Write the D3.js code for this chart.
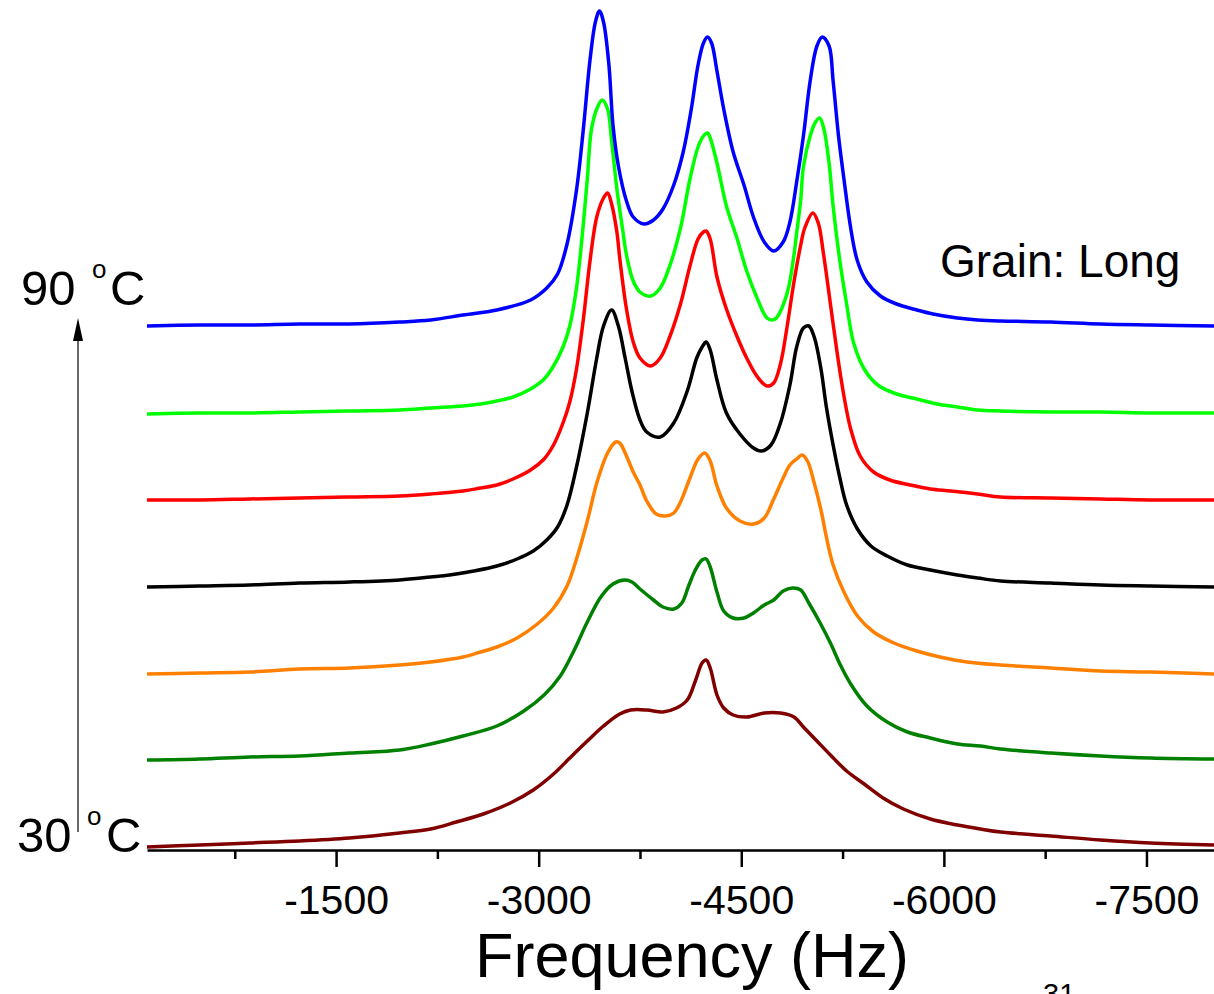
<!DOCTYPE html>
<html lang="en">
<head>
<meta charset="UTF-8">
<title>Frequency stack</title>
<style>
  body { margin: 0; background: #fff; }
  svg { display: block; font-family: "Liberation Sans", Arial, sans-serif; }
</style>
</head>
<body>
<svg width="1214" height="994"></svg>
<script src="https://d3js.org/d3.v7.min.js"></script>
<script>
// temperatures, bottom trace first
const temps = [30, 40, 50, 60, 70, 80, 90];
const colors = ["#800000", "#008000", "#ff8000", "#000000", "#ff0000", "#00ff00", "#0000ff"];
// vertical stacking offset of each trace (a.u.)
const offsets = [3, 90, 177, 263, 350, 436, 524];
const xTicks = [-1500, -3000, -4500, -6000, -7500];
const xMinor = [-750, -2250, -3750, -5250, -6750];

// [frequency Hz, intensity a.u.]
const s30 = [[-100,0],[-490,2],[-860,4],[-1230,6],[-1600,9],[-1970,14],[-2200,18],[-2390,25],[-2590,33],[-2790,44],[-2960,57],[-3110,73],[-3230,89],[-3360,106],[-3480,121],[-3600,133],[-3680,137],[-3800,137],[-3920,135],[-4020,139],[-4100,147],[-4160,166],[-4210,184],[-4240,187],[-4270,179],[-4320,152],[-4370,139],[-4440,132],[-4540,130],[-4670,134],[-4790,134],[-4890,130],[-4960,120],[-5060,106],[-5160,92],[-5280,76],[-5410,63],[-5550,49],[-5700,38],[-5900,28],[-6100,22],[-6270,18],[-6420,15],[-6790,11],[-7160,7],[-7530,4],[-8000,2]];
const s40 = [[-100,0],[-490,1],[-860,3],[-1230,4],[-1600,7],[-1970,10],[-2200,16],[-2440,24],[-2690,34],[-2890,49],[-3040,65],[-3160,84],[-3260,109],[-3360,138],[-3460,163],[-3550,176],[-3640,180],[-3690,178],[-3750,171],[-3850,160],[-3920,153],[-4000,151],[-4060,157],[-4110,174],[-4160,190],[-4210,200],[-4240,201],[-4270,193],[-4320,168],[-4370,149],[-4440,142],[-4520,142],[-4590,147],[-4670,155],[-4740,160],[-4810,169],[-4880,172],[-4940,170],[-5000,157],[-5080,138],[-5160,117],[-5230,96],[-5310,76],[-5430,54],[-5580,38],[-5730,28],[-5900,22],[-6100,16],[-6270,14],[-6420,11],[-6790,7],[-7160,4],[-7530,2],[-8000,1]];
const s50 = [[-100,-1],[-490,0],[-860,1],[-1230,4],[-1600,5],[-1970,8],[-2200,11],[-2440,16],[-2570,21],[-2690,26],[-2840,35],[-2990,49],[-3110,65],[-3210,87],[-3280,114],[-3360,152],[-3430,190],[-3510,220],[-3570,231],[-3600,230],[-3650,217],[-3700,201],[-3750,188],[-3800,172],[-3870,159],[-3940,157],[-4000,160],[-4050,171],[-4120,195],[-4180,214],[-4230,220],[-4270,212],[-4320,187],[-4390,165],[-4490,152],[-4590,149],[-4670,155],[-4740,174],[-4810,195],[-4860,208],[-4910,214],[-4950,218],[-4990,212],[-5040,190],[-5090,163],[-5130,136],[-5180,108],[-5260,81],[-5360,57],[-5480,41],[-5630,30],[-5800,22],[-5970,16],[-6170,11],[-6420,8],[-6790,5],[-7160,2],[-7530,1],[-8000,-1]];
const s60 = [[-100,0],[-490,1],[-860,2],[-1230,4],[-1600,5],[-1970,7],[-2200,10],[-2340,12],[-2520,16],[-2690,21],[-2840,28],[-2960,36],[-3060,47],[-3140,60],[-3210,82],[-3280,120],[-3360,174],[-3430,229],[-3480,261],[-3540,277],[-3590,261],[-3640,229],[-3690,196],[-3750,167],[-3800,155],[-3900,150],[-4000,164],[-4100,196],[-4170,229],[-4210,240],[-4240,245],[-4270,237],[-4320,207],[-4390,174],[-4490,153],[-4590,139],[-4650,136],[-4720,142],[-4790,164],[-4860,202],[-4910,240],[-4960,259],[-5000,261],[-5040,250],[-5090,218],[-5130,180],[-5180,142],[-5230,109],[-5280,82],[-5360,58],[-5460,41],[-5580,31],[-5730,22],[-5900,17],[-6100,12],[-6250,9],[-6420,6],[-6790,4],[-7160,2],[-7530,1],[-8000,0]];
const s70 = [[-100,0],[-490,0],[-860,1],[-1230,2],[-1600,3],[-1970,4],[-2200,6],[-2440,9],[-2570,12],[-2690,15],[-2810,21],[-2940,30],[-3040,41],[-3110,55],[-3180,77],[-3230,98],[-3280,131],[-3330,180],[-3380,239],[-3430,283],[-3480,302],[-3510,307],[-3540,296],[-3580,267],[-3600,242],[-3650,191],[-3700,158],[-3750,142],[-3830,134],[-3900,142],[-3970,163],[-4050,196],[-4120,234],[-4180,261],[-4220,268],[-4240,269],[-4270,261],[-4320,223],[-4390,191],[-4470,163],[-4540,142],[-4620,123],[-4690,114],[-4740,117],[-4790,136],[-4840,174],[-4890,218],[-4940,255],[-4970,272],[-5030,287],[-5070,277],[-5110,245],[-5160,196],[-5210,147],[-5260,104],[-5310,71],[-5380,44],[-5480,28],[-5600,20],[-5750,15],[-5900,11],[-6050,9],[-6250,6],[-6420,3],[-6790,2],[-7160,1],[-7530,0],[-8000,0]];
const s80 = [[-100,0],[-490,1],[-860,1],[-1230,2],[-1600,3],[-1970,4],[-2200,6],[-2440,8],[-2570,10],[-2690,13],[-2810,17],[-2940,25],[-3040,35],[-3110,48],[-3180,67],[-3230,88],[-3280,126],[-3320,175],[-3360,235],[-3390,284],[-3430,305],[-3470,314],[-3510,305],[-3540,273],[-3580,224],[-3620,186],[-3650,159],[-3700,133],[-3750,122],[-3830,118],[-3900,126],[-3970,148],[-4050,186],[-4120,235],[-4180,267],[-4220,278],[-4250,281],[-4270,276],[-4320,251],[-4390,208],[-4470,175],[-4540,143],[-4620,115],[-4690,96],[-4730,94],[-4760,96],[-4840,121],[-4890,159],[-4910,181],[-4940,214],[-4960,247],[-5010,278],[-5050,292],[-5080,296],[-5110,286],[-5150,251],[-5180,208],[-5230,153],[-5280,110],[-5330,72],[-5410,45],[-5510,29],[-5650,20],[-5800,15],[-5950,10],[-6100,7],[-6250,4],[-6420,3],[-6790,2],[-7160,2],[-7530,1],[-8000,1]];
const s90 = [[-100,0],[-490,1],[-860,1],[-1230,2],[-1600,2],[-1970,4],[-2200,6],[-2440,11],[-2690,16],[-2940,26],[-3060,38],[-3140,52],[-3210,82],[-3280,136],[-3330,196],[-3380,266],[-3420,304],[-3450,315],[-3480,304],[-3520,261],[-3550,201],[-3590,160],[-3650,125],[-3700,109],[-3780,102],[-3850,106],[-3920,117],[-4000,141],[-4070,174],[-4130,217],[-4180,261],[-4220,283],[-4250,289],[-4280,283],[-4320,255],[-4370,217],[-4440,174],[-4520,141],[-4590,109],[-4670,84],[-4740,75],[-4810,84],[-4860,104],[-4910,144],[-4960,190],[-5010,245],[-5060,280],[-5100,289],[-5150,280],[-5180,245],[-5220,190],[-5260,147],[-5310,98],[-5360,65],[-5430,44],[-5530,30],[-5650,22],[-5800,16],[-5920,12],[-6100,8],[-6250,6],[-6420,5],[-6790,4],[-7160,2],[-7530,1],[-8000,0]];
const spectra = [s30, s40, s50, s60, s70, s80, s90];

const svg = d3.select("svg");

const x = d3.scaleLinear().domain([-100, -8000]).range([147, 1214]);
const y = d3.scaleLinear().domain([0, 850]).range([850, 0]);

// traces
spectra.forEach(function (s, i) {
    let line = d3.line()
        .x(d => x(d[0]))
        .y(d => y(d[1] + offsets[i]))
        .curve(d3.curveCatmullRom.alpha(0.5));
    svg.append("path")
        .datum(s)
        .attr("d", line)
        .attr("fill", "none")
        .attr("stroke", colors[i])
        .attr("stroke-width", 3.5)
        .attr("stroke-linejoin", "round");
});

// x axis
let gx = svg.append("g")
    .attr("transform", "translate(0,850)")
    .call(d3.axisBottom(x).tickValues(xTicks).tickSize(17).tickSizeOuter(0)
        .tickPadding(18).tickFormat(d => String(d)));
gx.select(".domain").attr("stroke-width", 2.5);
gx.selectAll(".tick line").attr("stroke-width", 2.5);
gx.selectAll(".tick text").attr("font-size", 41).attr("font-family", "Liberation Sans, Arial, sans-serif").attr("fill", "#000");

let gm = svg.append("g")
    .attr("transform", "translate(0,850)")
    .call(d3.axisBottom(x).tickValues(xMinor).tickSize(9).tickSizeOuter(0).tickFormat(""));
gm.select(".domain").remove();
gm.selectAll(".tick line").attr("stroke-width", 2.5);

svg.append("text")
    .attr("x", 692).attr("y", 977)
    .attr("text-anchor", "middle")
    .attr("font-size", 63)
    .text("Frequency (Hz)");

// temperature labels and arrow
function tempLabel(t, tx, base, ox, cx) {
    let g = svg.append("g").attr("font-size", 49);
    g.append("text").attr("x", tx).attr("y", base).text(t);
    g.append("text").attr("x", ox).attr("y", base - 27).attr("font-size", 26).text("o");
    g.append("text").attr("x", cx).attr("y", base).text("C");
}
tempLabel(temps[6], 21, 305, 92, 110);
tempLabel(temps[0], 17, 852, 87, 106);

svg.append("line")
    .attr("x1", 78).attr("x2", 78)
    .attr("y1", 832).attr("y2", 336)
    .attr("stroke", "#000").attr("stroke-width", 1.2);
svg.append("path")
    .attr("d", "M78,318L73,341L83,341Z")
    .attr("fill", "#000");

svg.append("text")
    .attr("x", 940).attr("y", 277)
    .attr("font-size", 46)
    .text("Grain: Long");

// caption fragment cut by the bottom edge, as in the source figure
svg.append("text")
    .attr("x", 1043).attr("y", 1004)
    .attr("font-size", 29)
    .text("31");
</script>
</body>
</html>
